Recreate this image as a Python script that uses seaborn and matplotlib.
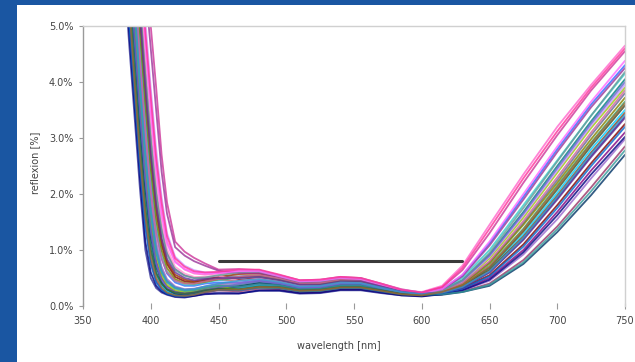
import matplotlib
matplotlib.use("Agg")
import matplotlib.pyplot as plt
import seaborn as sns
import pandas as pd
from matplotlib.patches import Rectangle
from matplotlib.ticker import FuncFormatter

# ---------------- data (reflexion in %) ----------------
wavelength = [380, 384, 388, 392, 396, 400, 404, 408, 412, 418, 425, 432, 440,
              450, 465, 480, 495, 510, 525, 540, 555, 570, 585, 600,
              615, 630, 650, 675, 700, 725, 750]

curve_01 = [6.1, 4.7, 3.4, 2.1, 1.0, 0.5, 0.32, 0.24, 0.2, 0.16, 0.15, 0.18, 0.22, 0.24,
            0.23, 0.27, 0.27, 0.22, 0.23, 0.28, 0.28, 0.23, 0.19, 0.18,
            0.23, 0.33, 0.6, 1.2, 1.92, 2.68, 3.38]
curve_02 = [6.6, 5.2, 3.9, 2.6, 1.5, 0.8, 0.45, 0.3, 0.22, 0.18, 0.17, 0.19, 0.24, 0.28,
            0.26, 0.31, 0.3, 0.24, 0.25, 0.3, 0.3, 0.25, 0.2, 0.18,
            0.21, 0.26, 0.4, 0.82, 1.42, 2.12, 2.85]
curve_03 = [7.2, 5.8, 4.4, 3.1, 1.9, 1.1, 0.6, 0.38, 0.27, 0.2, 0.19, 0.22, 0.27, 0.31,
            0.3, 0.35, 0.33, 0.27, 0.28, 0.33, 0.33, 0.27, 0.21, 0.2,
            0.28, 0.46, 0.92, 1.68, 2.5, 3.3, 4.05]
curve_04 = [7.8, 6.4, 5.0, 3.6, 2.4, 1.45, 0.8, 0.5, 0.35, 0.26, 0.23, 0.25, 0.3, 0.34,
            0.33, 0.38, 0.36, 0.29, 0.3, 0.36, 0.36, 0.29, 0.22, 0.2,
            0.22, 0.3, 0.5, 1.0, 1.68, 2.42, 3.1]
curve_05 = [8.3, 6.9, 5.5, 4.1, 2.8, 1.8, 1.05, 0.65, 0.45, 0.33, 0.29, 0.3, 0.34, 0.37,
            0.37, 0.42, 0.39, 0.32, 0.33, 0.39, 0.39, 0.31, 0.24, 0.21,
            0.26, 0.38, 0.72, 1.38, 2.15, 2.92, 3.65]
curve_06 = [8.8, 7.4, 6.0, 4.6, 3.3, 2.2, 1.35, 0.85, 0.58, 0.42, 0.36, 0.36, 0.4, 0.42,
            0.42, 0.46, 0.42, 0.34, 0.35, 0.41, 0.41, 0.33, 0.25, 0.23,
            0.3, 0.55, 1.12, 1.95, 2.8, 3.6, 4.3]
curve_07 = [9.3, 7.9, 6.5, 5.1, 3.8, 2.6, 1.7, 1.1, 0.75, 0.52, 0.44, 0.42, 0.45, 0.47,
            0.47, 0.5, 0.45, 0.37, 0.37, 0.43, 0.43, 0.34, 0.26, 0.22,
            0.24, 0.32, 0.55, 1.1, 1.8, 2.55, 3.25]
curve_08 = [9.8, 8.4, 7.0, 5.6, 4.3, 3.1, 2.1, 1.4, 0.95, 0.66, 0.55, 0.5, 0.5, 0.52,
            0.53, 0.55, 0.48, 0.4, 0.4, 0.46, 0.45, 0.36, 0.27, 0.22,
            0.25, 0.4, 0.78, 1.48, 2.25, 3.05, 3.8]
curve_09 = [10.3, 8.9, 7.5, 6.1, 4.8, 3.6, 2.5, 1.7, 1.15, 0.8, 0.65, 0.58, 0.56, 0.58,
            0.6, 0.6, 0.52, 0.42, 0.44, 0.5, 0.48, 0.38, 0.28, 0.25,
            0.36, 0.72, 1.45, 2.35, 3.2, 3.95, 4.65]
curve_10 = [11.0, 9.6, 8.2, 7.0, 6.0, 5.0, 3.9, 2.7, 1.85, 1.15, 0.97, 0.86, 0.76, 0.65,
            0.66, 0.64, 0.55, 0.46, 0.47, 0.52, 0.5, 0.4, 0.3, 0.24,
            0.33, 0.64, 1.3, 2.2, 3.05, 3.85, 4.55]
curve_11 = [6.9, 5.5, 4.1, 2.8, 1.7, 0.95, 0.55, 0.36, 0.26, 0.2, 0.19, 0.21, 0.26, 0.3,
            0.31, 0.37, 0.35, 0.28, 0.29, 0.35, 0.35, 0.28, 0.22, 0.19,
            0.24, 0.35, 0.65, 1.28, 2.02, 2.8, 3.5]
curve_12 = [7.5, 6.1, 4.7, 3.3, 2.1, 1.25, 0.7, 0.43, 0.3, 0.22, 0.2, 0.23, 0.28, 0.32,
            0.35, 0.41, 0.38, 0.31, 0.32, 0.38, 0.38, 0.3, 0.23, 0.19,
            0.2, 0.25, 0.36, 0.75, 1.32, 1.98, 2.7]
curve_13 = [8.0, 6.6, 5.2, 3.8, 2.55, 1.55, 0.9, 0.55, 0.38, 0.28, 0.25, 0.27, 0.31, 0.35,
            0.29, 0.33, 0.32, 0.26, 0.27, 0.32, 0.32, 0.26, 0.2, 0.19,
            0.26, 0.42, 0.85, 1.58, 2.38, 3.18, 3.9]
curve_14 = [8.5, 7.1, 5.7, 4.3, 3.0, 1.95, 1.15, 0.7, 0.48, 0.35, 0.3, 0.31, 0.35, 0.39,
            0.41, 0.45, 0.41, 0.33, 0.34, 0.4, 0.4, 0.32, 0.24, 0.21,
            0.22, 0.28, 0.45, 0.92, 1.55, 2.28, 2.98]
curve_15 = [9.0, 7.6, 6.2, 4.8, 3.5, 2.35, 1.45, 0.92, 0.62, 0.45, 0.38, 0.38, 0.42, 0.46,
            0.5, 0.53, 0.47, 0.39, 0.39, 0.45, 0.44, 0.35, 0.26, 0.22,
            0.28, 0.5, 1.0, 1.8, 2.6, 3.4, 4.15]
curve_16 = [9.5, 8.1, 6.7, 5.3, 4.0, 2.8, 1.85, 1.2, 0.8, 0.56, 0.47, 0.44, 0.47, 0.52,
            0.57, 0.58, 0.51, 0.41, 0.42, 0.48, 0.47, 0.37, 0.27, 0.23,
            0.25, 0.36, 0.64, 1.24, 1.97, 2.74, 3.45]
curve_17 = [6.3, 4.9, 3.6, 2.3, 1.15, 0.6, 0.36, 0.26, 0.21, 0.17, 0.16, 0.18, 0.21, 0.22,
            0.22, 0.28, 0.28, 0.23, 0.24, 0.29, 0.29, 0.24, 0.19, 0.17,
            0.21, 0.28, 0.47, 0.96, 1.62, 2.35, 3.02]
curve_18 = [10.0, 8.6, 7.2, 5.8, 4.5, 3.3, 2.25, 1.5, 1.02, 0.7, 0.58, 0.52, 0.52, 0.54,
            0.45, 0.49, 0.44, 0.36, 0.36, 0.42, 0.42, 0.33, 0.25, 0.21,
            0.25, 0.37, 0.7, 1.34, 2.1, 2.86, 3.58]
curve_19 = [10.6, 9.2, 7.8, 6.4, 5.1, 3.9, 2.8, 1.95, 1.3, 0.88, 0.72, 0.64, 0.6, 0.6,
            0.64, 0.63, 0.54, 0.45, 0.46, 0.51, 0.49, 0.39, 0.29, 0.24,
            0.27, 0.43, 0.88, 1.62, 2.42, 3.22, 3.95]
curve_20 = [8.1, 6.7, 5.3, 3.9, 2.65, 1.65, 0.95, 0.6, 0.42, 0.31, 0.27, 0.28, 0.32, 0.36,
            0.34, 0.39, 0.37, 0.3, 0.31, 0.37, 0.37, 0.3, 0.23, 0.2,
            0.21, 0.25, 0.38, 0.78, 1.37, 2.05, 2.78]
curve_21 = [7.6, 6.2, 4.8, 3.45, 2.25, 1.35, 0.75, 0.47, 0.33, 0.25, 0.22, 0.24, 0.29, 0.33,
            0.39, 0.44, 0.4, 0.33, 0.34, 0.4, 0.4, 0.32, 0.24, 0.21,
            0.27, 0.45, 0.9, 1.65, 2.46, 3.26, 4.0]
curve_22 = [9.1, 7.7, 6.3, 4.9, 3.6, 2.45, 1.55, 1.0, 0.68, 0.48, 0.41, 0.4, 0.43, 0.48,
            0.51, 0.54, 0.47, 0.39, 0.39, 0.45, 0.44, 0.35, 0.27, 0.22,
            0.25, 0.39, 0.76, 1.45, 2.2, 2.98, 3.72]
curve_23 = [6.5, 5.1, 3.8, 2.5, 1.4, 0.75, 0.42, 0.29, 0.22, 0.18, 0.17, 0.2, 0.25, 0.29,
            0.28, 0.33, 0.32, 0.26, 0.27, 0.32, 0.32, 0.26, 0.21, 0.19,
            0.23, 0.31, 0.53, 1.06, 1.75, 2.5, 3.2]
curve_24 = [10.8, 9.4, 8.0, 6.8, 5.7, 4.6, 3.5, 2.4, 1.65, 1.05, 0.9, 0.8, 0.72, 0.63,
            0.59, 0.59, 0.51, 0.42, 0.43, 0.49, 0.47, 0.37, 0.28, 0.23,
            0.29, 0.53, 1.08, 1.9, 2.75, 3.55, 4.25]
curve_25 = [8.6, 7.2, 5.8, 4.4, 3.1, 2.05, 1.3, 0.85, 0.6, 0.45, 0.4, 0.4, 0.44, 0.48,
            0.52, 0.55, 0.49, 0.4, 0.41, 0.47, 0.46, 0.36, 0.27, 0.22,
            0.26, 0.41, 0.8, 1.52, 2.3, 3.1, 3.85]
curve_26 = [9.6, 8.2, 6.8, 5.4, 4.1, 2.95, 2.0, 1.35, 0.92, 0.64, 0.54, 0.5, 0.51, 0.55,
            0.6, 0.61, 0.53, 0.43, 0.44, 0.5, 0.49, 0.38, 0.28, 0.23,
            0.27, 0.46, 0.95, 1.75, 2.58, 3.4, 4.18]
curve_27 = [10.2, 8.8, 7.4, 6.0, 4.7, 3.5, 2.45, 1.65, 1.12, 0.78, 0.66, 0.6, 0.58, 0.59,
            0.62, 0.62, 0.53, 0.44, 0.45, 0.5, 0.48, 0.38, 0.28, 0.23,
            0.3, 0.56, 1.15, 2.0, 2.85, 3.65, 4.38]
curve_28 = [7.0, 5.6, 4.2, 2.9, 1.75, 1.0, 0.58, 0.4, 0.3, 0.24, 0.22, 0.24, 0.28, 0.31,
            0.3, 0.35, 0.34, 0.28, 0.29, 0.34, 0.34, 0.28, 0.22, 0.19,
            0.24, 0.36, 0.68, 1.33, 2.08, 2.86, 3.58]
curve_29 = [9.4, 8.0, 6.6, 5.2, 3.9, 2.7, 1.8, 1.2, 0.84, 0.6, 0.5, 0.46, 0.48, 0.5,
            0.5, 0.52, 0.46, 0.38, 0.38, 0.44, 0.44, 0.35, 0.26, 0.22,
            0.24, 0.33, 0.6, 1.18, 1.9, 2.66, 3.36]
curve_30 = [10.4, 9.0, 7.6, 6.2, 4.9, 3.75, 2.65, 1.85, 1.25, 0.85, 0.7, 0.62, 0.6, 0.61,
            0.65, 0.65, 0.56, 0.46, 0.47, 0.52, 0.5, 0.4, 0.29, 0.24,
            0.34, 0.68, 1.38, 2.28, 3.12, 3.9, 4.6]
curve_31 = [8.2, 6.8, 5.4, 4.0, 2.7, 1.7, 1.0, 0.62, 0.44, 0.33, 0.29, 0.3, 0.35, 0.4,
            0.45, 0.48, 0.43, 0.35, 0.36, 0.42, 0.41, 0.33, 0.25, 0.21,
            0.24, 0.34, 0.62, 1.22, 1.95, 2.72, 3.42]
curve_32 = [6.8, 5.4, 4.0, 2.7, 1.6, 0.88, 0.5, 0.33, 0.24, 0.19, 0.18, 0.2, 0.25, 0.29,
            0.29, 0.34, 0.33, 0.27, 0.28, 0.33, 0.33, 0.27, 0.21, 0.19,
            0.25, 0.37, 0.7, 1.36, 2.12, 2.9, 3.62]

curves = [curve_01, curve_02, curve_03, curve_04, curve_05, curve_06, curve_07, curve_08,
          curve_09, curve_10, curve_11, curve_12, curve_13, curve_14, curve_15, curve_16,
          curve_17, curve_18, curve_19, curve_20, curve_21, curve_22, curve_23, curve_24,
          curve_25, curve_26, curve_27, curve_28, curve_29, curve_30, curve_31, curve_32]

curve_colors = ['#333399', '#993366', '#008080', '#800080', '#339966', '#3366ff',
                '#800000', '#666699', '#ff66cc', '#cc3399', '#00ccff', '#003366',
                '#99cc00', '#9966cc', '#33cccc', '#993300', '#000080', '#ff99cc',
                '#cc99ff', '#339999', '#6666cc', '#808000', '#0066cc', '#993399',
                '#cc6699', '#669999', '#ff66ff', '#336633', '#663399', '#ff3399',
                '#3399cc', '#996633']

limit_x = [450, 630]
limit_y = [0.8, 0.8]

x_ticks = [350, 400, 450, 500, 550, 600, 650, 700, 750]
y_ticks = [0, 1, 2, 3, 4, 5]

# ---------------- figure ----------------
sns.set_theme(style="white")
plt.rcParams['font.family'] = ['DejaVu Sans']

W, H = 635, 362
fig = plt.figure(figsize=(W / 100, H / 100), dpi=100)
fig.patch.set_facecolor('#1a56a2')
fig.patches.append(Rectangle((17 / W, 0), 1 - 17 / W, (H - 5) / H,
                             transform=fig.transFigure, facecolor='white',
                             edgecolor='none', zorder=-10))

ax = fig.add_axes([83 / W, (H - 306) / H, (625 - 83) / W, (306 - 26) / H])
ax.set_facecolor('white')

rows = []
for i, c in enumerate(curves):
    for w, v in zip(wavelength, c):
        rows.append({'wavelength': w, 'reflexion': v, 'curve': f'c{i + 1:02d}'})
df = pd.DataFrame(rows)

sns.lineplot(data=df, x='wavelength', y='reflexion', hue='curve',
             palette=curve_colors, estimator=None, sort=False, legend=False,
             linewidth=1.3, alpha=0.8, ax=ax)

sns.lineplot(x=limit_x, y=limit_y, color='#3a3a3a', linewidth=2.2, ax=ax)

ax.set_xlim(350, 750)
ax.set_ylim(0, 5)
ax.set_xticks(x_ticks)
ax.set_yticks(y_ticks)
ax.yaxis.set_major_formatter(FuncFormatter(lambda v, p: f'{v:.1f}%'))

for side in ['top', 'right']:
    ax.spines[side].set_color('#d0d0d0')
    ax.spines[side].set_linewidth(1.0)
ax.spines['left'].set_color('#9a9a9a')
ax.spines['left'].set_linewidth(1.0)
ax.spines['bottom'].set_visible(False)

ax.tick_params(axis='x', direction='inout', length=4, width=0.8, color='#9a9a9a',
               labelsize=7, labelcolor='#444444', pad=5, bottom=True)
ax.tick_params(axis='y', direction='out', length=3, width=0.8, color='#9a9a9a',
               labelsize=7, labelcolor='#444444', pad=4, left=True)

ax.set_xlabel('wavelength [nm]', fontsize=7, color='#444444')
ax.set_ylabel('reflexion [%]', fontsize=7, color='#444444')
ax.xaxis.set_label_coords(0.472, -0.125)
ax.yaxis.set_label_coords(-0.08, 0.51)

fig.savefig('out.png', dpi=100, facecolor=fig.get_facecolor())
